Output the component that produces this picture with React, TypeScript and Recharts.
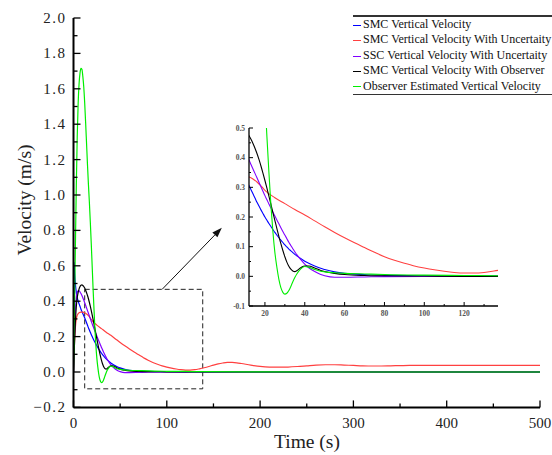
import React from 'react'
import { LineChart, Line, XAxis, YAxis, ReferenceArea, ReferenceLine } from 'recharts'

// time grid for the fast-settling responses (s)
const tFast = [
  0, 0.5, 1, 2, 3, 4, 5, 6, 7, 8, 9, 10, 11, 12, 13, 14, 15, 16, 17, 18, 19, 20,
  21, 22, 23, 24, 25, 26, 27, 28, 29, 30, 31, 32, 33, 34, 35, 36, 38, 40, 42, 45,
  48, 50, 55, 60, 70, 80, 100, 120, 140, 200, 300, 400, 500,
]

const smcVel = [
  0, 0.62, 0.58, 0.5, 0.45, 0.42, 0.4, 0.385, 0.37, 0.355, 0.342, 0.33, 0.318, 0.306, 0.292, 0.278, 0.264, 0.25, 0.237, 0.224, 0.212, 0.2,
  0.189, 0.178, 0.168, 0.158, 0.148, 0.139, 0.13, 0.122, 0.114, 0.106, 0.099, 0.092, 0.086, 0.08, 0.074, 0.069, 0.06, 0.051, 0.044, 0.035,
  0.027, 0.023, 0.015, 0.01, 0.006, 0.004, 0.002, 0.001, 0.001, 0, 0, 0, 0,
]

const sscVel = [
  0, 0.1, 0.2, 0.34, 0.42, 0.45, 0.458, 0.458, 0.452, 0.443, 0.432, 0.42, 0.406, 0.392, 0.377, 0.362, 0.347, 0.332, 0.317, 0.302, 0.287, 0.272,
  0.258, 0.244, 0.23, 0.216, 0.203, 0.19, 0.177, 0.164, 0.151, 0.139, 0.127, 0.115, 0.104, 0.093, 0.083, 0.073, 0.056, 0.041, 0.029, 0.016,
  0.006, 0.002, -0.003, -0.003, -0.002, -0.001, 0, 0, 0, 0, 0, 0, 0,
]

const obsVel = [
  0, 0.08, 0.15, 0.28, 0.37, 0.42, 0.45, 0.47, 0.483, 0.49, 0.492, 0.489, 0.483, 0.474, 0.462, 0.448, 0.432, 0.414, 0.394, 0.372, 0.348, 0.323,
  0.297, 0.27, 0.243, 0.215, 0.188, 0.161, 0.135, 0.11, 0.087, 0.066, 0.048, 0.034, 0.024, 0.018, 0.016, 0.019, 0.029, 0.035, 0.035, 0.028,
  0.02, 0.016, 0.01, 0.006, 0.003, 0.002, 0.001, 0, 0, 0, 0, 0, 0,
]

const estVel = [
  0, 0.17, 0.35, 0.7, 1.05, 1.33, 1.52, 1.63, 1.69, 1.715, 1.71, 1.67, 1.61, 1.52, 1.41, 1.29, 1.17, 1.06, 0.96, 0.85, 0.73, 0.6,
  0.47, 0.35, 0.24, 0.15, 0.08, 0.03, -0.01, -0.038, -0.054, -0.06, -0.057, -0.048, -0.034, -0.018, -0.004, 0.008, 0.025, 0.033, 0.031, 0.023,
  0.017, 0.015, 0.012, 0.01, 0.008, 0.006, 0.004, 0.003, 0.002, 0.001, 0, 0, 0,
]

// the uncertain SMC response oscillates slowly, so it gets its own grid
const tSlow = [
  0, 0.5, 1, 2, 3, 4, 5, 6, 8, 10, 12, 14, 16, 18, 20,
  25, 30, 35, 40, 45, 50, 55, 60, 65, 70, 75, 80, 85, 90, 95, 100, 105, 110, 115, 120, 125, 130,
  135, 140, 145, 150, 155, 160, 165, 170, 175, 180,
  190, 200, 210, 220, 230, 240, 250, 260, 270, 280, 290, 300, 310, 320, 330, 340, 350, 360,
  380, 400, 420, 440, 460, 480, 500,
]

const smcUncVel = [
  0, 0.08, 0.16, 0.25, 0.3, 0.32, 0.33, 0.335, 0.338, 0.338, 0.335, 0.328, 0.318, 0.305, 0.29,
  0.265, 0.245, 0.225, 0.207, 0.187, 0.167, 0.148, 0.13, 0.113, 0.097, 0.081, 0.066, 0.054, 0.044, 0.035, 0.028, 0.022, 0.017, 0.013, 0.011, 0.011, 0.013,
  0.018, 0.024, 0.031, 0.039, 0.046, 0.051, 0.054, 0.054, 0.052, 0.048,
  0.039, 0.032, 0.028, 0.027, 0.028, 0.031, 0.035, 0.039, 0.041, 0.041, 0.039, 0.037, 0.035, 0.034, 0.034, 0.035, 0.036, 0.037,
  0.037, 0.037, 0.037, 0.037, 0.037, 0.037, 0.037,
]

const seriesNames = [
  'SMC Vertical Velocity',
  'SMC Vertical Velocity With Uncertaity',
  'SSC Vertical Velocity With Uncertaity',
  'SMC Vertical Velocity With Observer',
  'Observer Estimated Vertical Velocity',
]
const seriesColors = ['#0000ff', '#ff4040', '#8000ff', '#000000', '#00ee00']

const mainXTicks = [0, 50, 100, 150, 200, 250, 300, 350, 400, 450, 500]
const mainYTicks = [
  -0.2, -0.1, 0, 0.1, 0.2, 0.3, 0.4, 0.5, 0.6, 0.7, 0.8, 0.9, 1.0,
  1.1, 1.2, 1.3, 1.4, 1.5, 1.6, 1.7, 1.8, 1.9, 2.0,
]
const insetXTicks = [20, 30, 40, 50, 60, 70, 80, 90, 100, 110, 120, 130]
const insetYTicks = [-0.1, -0.05, 0, 0.05, 0.1, 0.15, 0.2, 0.25, 0.3, 0.35, 0.4, 0.45, 0.5]

// zoom window marked on the main plot
const zoomBox = { t1: 12, t2: 138.5, v1: -0.095, v2: 0.467 }
const arrowFrom = { x: 95, y: 0.467 }
const arrowTo = { x: 159, y: 0.815 }

const toRows = (ts: number[], vs: number[]) => ts.map((t, i) => ({ t, v: vs[i] }))
const series = [
  toRows(tFast, smcVel),
  toRows(tSlow, smcUncVel),
  toRows(tFast, sscVel),
  toRows(tFast, obsVel),
  toRows(tFast, estVel),
]

const FONT = 'Liberation Serif, serif'
const serif = { fontFamily: FONT }
const fmt = (v: number) => (v < 0 ? '\u2212' : '') + Math.abs(v).toFixed(1)

const MainYTick = (props: any) => {
  const { x, y, payload } = props
  const major = Math.round(payload.value * 10) % 2 === 0
  return (
    <g>
      <line x1={x} x2={x + (major ? 7 : 4)} y1={y} y2={y} stroke="#000" strokeWidth={1.3} />
      {major && (
        <text x={x - 7} y={y} dy={5} textAnchor="end" fontSize={15} letterSpacing={1.5} fontFamily={FONT} style={serif} fill="#222">
          {fmt(payload.value)}
        </text>
      )}
    </g>
  )
}

const MainXTick = (props: any) => {
  const { x, y, payload } = props
  const major = payload.value % 100 === 0
  return (
    <g>
      <line x1={x} x2={x} y1={y} y2={y - (major ? 7 : 4)} stroke="#000" strokeWidth={1.3} />
      {major && (
        <text x={x} y={y + 21} textAnchor="middle" fontSize={15} fontFamily={FONT} style={serif} fill="#222">
          {payload.value}
        </text>
      )}
    </g>
  )
}

const InsetLeftTick = (props: any) => {
  const { x, y, payload } = props
  const major = Math.round(payload.value * 100) % 10 === 0
  return (
    <g>
      <line x1={x} x2={x + (major ? 4 : 2)} y1={y} y2={y} stroke="#000" />
      {major && (
        <text x={x - 4} y={y} dy={2.5} textAnchor="end" fontSize={7.5} fontWeight="bold" fontFamily={FONT} style={serif} fill="#555">
          {payload.value.toFixed(1)}
        </text>
      )}
    </g>
  )
}

const InsetBottomTick = (props: any) => {
  const { x, y, payload } = props
  const major = payload.value % 20 === 0
  return (
    <g>
      <line x1={x} x2={x} y1={y} y2={y - (major ? 4 : 2)} stroke="#000" />
      {major && (
        <text x={x} y={y + 10} textAnchor="middle" fontSize={7.5} fontWeight="bold" fontFamily={FONT} style={serif} fill="#555">
          {payload.value}
        </text>
      )}
    </g>
  )
}

const InsetTopTick = (props: any) => {
  const { x, y, payload } = props
  const major = payload.value % 20 === 0
  return <line x1={x} x2={x} y1={y} y2={y + (major ? 4 : 2)} stroke="#000" />
}

const InsetRightTick = (props: any) => {
  const { x, y, payload } = props
  const major = Math.round(payload.value * 100) % 10 === 0
  return <line x1={x} x2={x - (major ? 4 : 2)} y1={y} y2={y} stroke="#555" />
}

const Arrow = (props: any) => {
  const { x1, y1, x2, y2 } = props
  const a = Math.atan2(y2 - y1, x2 - x1)
  const len = 10
  const w = 3.5
  const bx = x2 - len * Math.cos(a)
  const by = y2 - len * Math.sin(a)
  const px = -Math.sin(a) * w
  const py = Math.cos(a) * w
  return (
    <g>
      <line x1={x1} y1={y1} x2={bx} y2={by} stroke="#111" strokeWidth={1} />
      <polygon points={`${x2},${y2} ${bx + px},${by + py} ${bx - px},${by - py}`} fill="#111" />
    </g>
  )
}

const YTitle = () => (
  <text x={31} y={200} transform="rotate(-90, 31, 200)" textAnchor="middle" fontSize={19.5} fontFamily={FONT} style={serif} fill="#222">
    Velocity (m/s)
  </text>
)

const XTitle = () => (
  <text x={307} y={448} textAnchor="middle" fontSize={19.5} fontFamily={FONT} style={serif} fill="#222">
    Time (s)
  </text>
)

export default function App() {
  return (
    <div style={{ position: 'absolute', left: 0, top: 0, width: 552, height: 455, overflow: 'hidden', background: '#fff', fontFamily: FONT }}>
      <div style={{ position: 'absolute', left: 0, top: 0 }}>
        <LineChart width={552} height={455} margin={{ top: 18, right: 12, left: 0, bottom: 0 }} style={serif}>
          <XAxis
            type="number"
            dataKey="t"
            domain={[0, 500]}
            ticks={mainXTicks}
            interval={0}
            allowDataOverflow
            height={47.6}
            tickSize={0}
            tickMargin={0}
            tickLine={false}
            axisLine={{ stroke: '#000', strokeWidth: 2 }}
            tick={<MainXTick />}
            label={<XTitle />}
          />
          <YAxis
            type="number"
            domain={[-0.2, 2.0]}
            ticks={mainYTicks}
            interval={0}
            allowDataOverflow
            width={73.5}
            tickSize={0}
            tickMargin={0}
            tickLine={false}
            axisLine={{ stroke: '#000', strokeWidth: 2 }}
            tick={<MainYTick />}
            label={<YTitle />}
          />
          {series.map((rows, i) => (
            <Line
              key={seriesNames[i]}
              data={rows}
              dataKey="v"
              name={seriesNames[i]}
              type="monotone"
              stroke={seriesColors[i]}
              strokeWidth={1.2}
              dot={false}
              isAnimationActive={false}
            />
          ))}
          <ReferenceArea
            x1={zoomBox.t1}
            x2={zoomBox.t2}
            y1={zoomBox.v1}
            y2={zoomBox.v2}
            fill="none"
            fillOpacity={0}
            stroke="#222"
            strokeWidth={1}
            strokeDasharray="5 3"
          />
          <ReferenceLine segment={[arrowFrom, arrowTo]} ifOverflow="visible" shape={<Arrow />} />
        </LineChart>
      </div>

      <div style={{ position: 'absolute', left: 200, top: 110 }}>
        <LineChart width={300} height={220} margin={{ top: 18, right: 2, left: 0, bottom: 0 }} style={serif}>
          <XAxis
            type="number"
            dataKey="t"
            domain={[12, 137]}
            ticks={insetXTicks}
            interval={0}
            allowDataOverflow
            height={24}
            tickSize={0}
            tickMargin={0}
            tickLine={false}
            axisLine={{ stroke: '#000', strokeWidth: 1.3 }}
            tick={<InsetBottomTick />}
          />
          <XAxis
            xAxisId="top"
            orientation="top"
            type="number"
            dataKey="t"
            domain={[12, 137]}
            ticks={insetXTicks}
            interval={0}
            allowDataOverflow
            height={0}
            tickSize={0}
            tickMargin={0}
            tickLine={false}
            axisLine={{ stroke: '#000', strokeWidth: 1 }}
            tick={<InsetTopTick />}
          />
          <YAxis
            type="number"
            domain={[-0.1, 0.5]}
            ticks={insetYTicks}
            interval={0}
            allowDataOverflow
            width={49}
            tickSize={0}
            tickMargin={0}
            tickLine={false}
            axisLine={{ stroke: '#000', strokeWidth: 1.3 }}
            tick={<InsetLeftTick />}
          />
          <YAxis
            yAxisId="right"
            orientation="right"
            type="number"
            domain={[-0.1, 0.5]}
            ticks={insetYTicks}
            interval={0}
            allowDataOverflow
            width={0}
            tickSize={0}
            tickMargin={0}
            tickLine={false}
            axisLine={{ stroke: '#777', strokeWidth: 2 }}
            tick={<InsetRightTick />}
          />
          {series.map((rows, i) => (
            <Line
              key={seriesNames[i]}
              data={rows}
              dataKey="v"
              name={seriesNames[i]}
              type="monotone"
              stroke={seriesColors[i]}
              strokeWidth={1.1}
              dot={false}
              isAnimationActive={false}
            />
          ))}
        </LineChart>
      </div>

      <div
        style={{
          position: 'absolute',
          left: 353,
          top: 15,
          width: 230,
          height: 77,
          borderTop: '2px solid #333',
          borderBottom: '1px solid #333',
          background: '#fff',
        }}
      >
        {seriesNames.map((name, i) => (
          <div key={name} style={{ height: 15.4, lineHeight: '15.4px', fontSize: 12, whiteSpace: 'nowrap', color: '#111' }}>
            <span
              style={{
                display: 'inline-block',
                width: 8,
                height: 0,
                borderTop: `1px solid ${seriesColors[i]}`,
                verticalAlign: 'middle',
              }}
            />
            <span style={{ marginLeft: 2 }}>{name}</span>
          </div>
        ))}
      </div>
    </div>
  )
}
